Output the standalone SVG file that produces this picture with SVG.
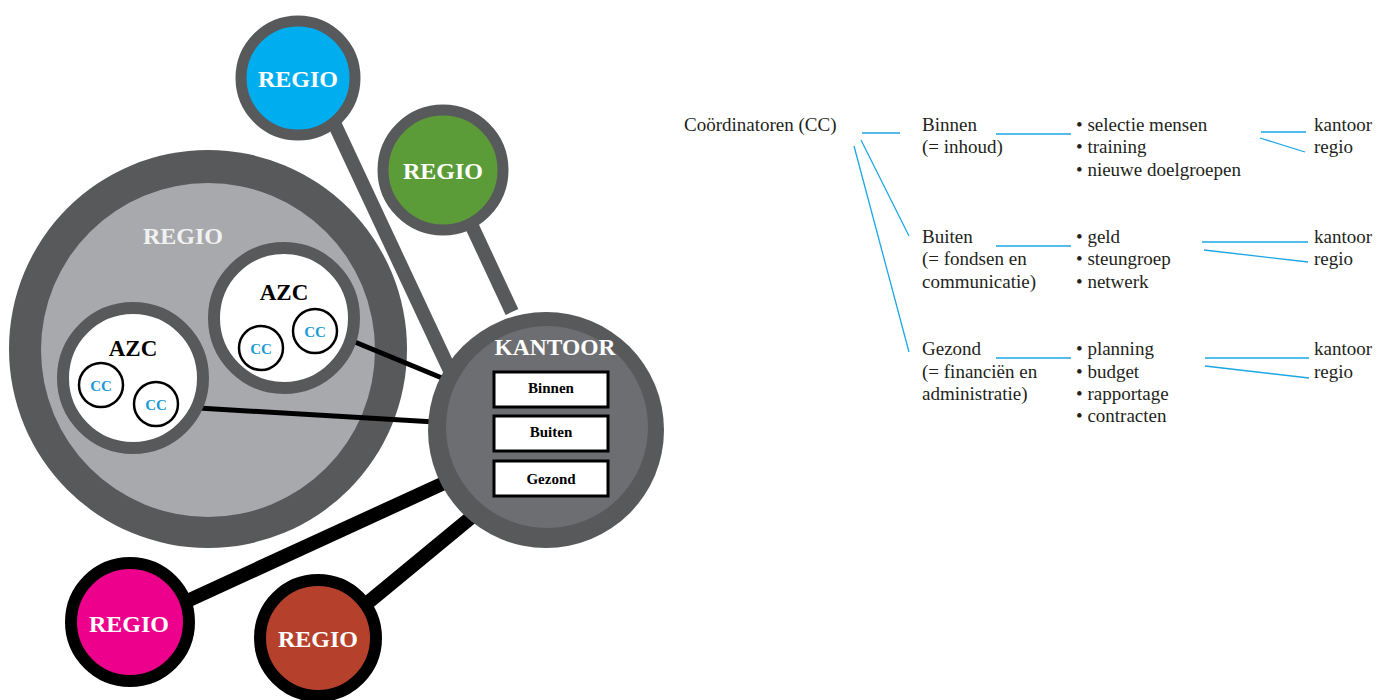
<svg xmlns="http://www.w3.org/2000/svg" width="1388" height="700" viewBox="0 0 1388 700">
<style>
.ring{stroke:#58595b;stroke-width:11}
.bring{stroke:#000;stroke-width:12}
.reg{font-family:"Liberation Serif",serif;font-weight:bold;font-size:24px;fill:#fff;text-anchor:middle}
.azc{font-family:"Liberation Serif",serif;font-weight:bold;font-size:23px;fill:#000;text-anchor:middle}
.cc{fill:#fff;stroke:#000;stroke-width:2.5}
.cct{font-family:"Liberation Serif",serif;font-weight:bold;font-size:15px;fill:#1a9ad6;text-anchor:middle}
.box{fill:#fff;stroke:#000;stroke-width:3}
.boxt{font-family:"Liberation Serif",serif;font-weight:bold;font-size:15px;fill:#000;text-anchor:middle}
.t{font-family:"Liberation Serif",serif;font-size:19px;fill:#231f20}
.bl{stroke:#1ba6e4;stroke-width:1.3;fill:none}
.gc{stroke:#58595b;stroke-width:14}
.kc{stroke:#000;stroke-width:5}
.kt{stroke:#000;stroke-width:14}
</style>
<g id="regio-big">
<circle cx="208" cy="349" r="199" fill="#58595b"/>
<circle cx="208" cy="350" r="167" fill="#a7a9ac"/>
<text class="reg" x="183" y="244" style="fill:#f1f1f2">REGIO</text>
</g>
<g id="connectors">
<line class="gc" x1="335" y1="125" x2="452" y2="375"/>
<line class="gc" x1="470" y1="222" x2="512" y2="312"/>
<line class="kc" x1="350" y1="340" x2="442" y2="378"/>
<line class="kc" x1="198" y1="408" x2="435" y2="422"/>
<line class="kt" x1="185" y1="602" x2="455" y2="478"/>
<line class="kt" x1="365" y1="605" x2="480" y2="510"/>
</g>
<g id="regio-blue">
<circle class="ring" cx="298" cy="78" r="57" fill="#00aeef"/>
<text class="reg" x="298" y="87">REGIO</text>
</g>
<g id="regio-green">
<circle class="ring" cx="443" cy="170" r="60" fill="#5c9c38"/>
<text class="reg" x="443" y="179">REGIO</text>
</g>
<g id="azc-right">
<circle cx="284" cy="318" r="70" fill="#fff" stroke="#58595b" stroke-width="12"/>
<text class="azc" x="284" y="300">AZC</text>
<g id="cc1"><circle class="cc" cx="261" cy="348" r="22"/><text class="cct" x="261" y="354">CC</text></g>
<g id="cc2"><circle class="cc" cx="315" cy="331" r="22"/><text class="cct" x="315" y="337">CC</text></g>
</g>
<g id="azc-left">
<circle cx="133" cy="378" r="70" fill="#fff" stroke="#58595b" stroke-width="12"/>
<text class="azc" x="133" y="356">AZC</text>
<g id="cc3"><circle class="cc" cx="101" cy="385" r="22"/><text class="cct" x="101" y="391">CC</text></g>
<g id="cc4"><circle class="cc" cx="156" cy="404" r="22"/><text class="cct" x="156" y="410">CC</text></g>
</g>
<g id="kantoor">
<circle cx="546" cy="430" r="118" fill="#58595b"/>
<circle cx="547" cy="427" r="101" fill="#6d6e71"/>
<text class="reg" x="555" y="355" style="font-size:23.5px">KANTOOR</text>
<g id="k-binnen"><rect class="box" x="494" y="372" width="114" height="35"/><text class="boxt" x="551" y="393">Binnen</text></g>
<g id="k-buiten"><rect class="box" x="494" y="416" width="114" height="35"/><text class="boxt" x="551" y="437">Buiten</text></g>
<g id="k-gezond"><rect class="box" x="494" y="461" width="114" height="35"/><text class="boxt" x="551" y="484">Gezond</text></g>
</g>
<g id="regio-pink">
<circle class="bring" cx="130" cy="622" r="59" fill="#ec008c"/>
<text class="reg" x="129" y="632">REGIO</text>
</g>
<g id="regio-brown">
<circle class="bring" cx="318" cy="638" r="58" fill="#b5412c"/>
<text class="reg" x="318" y="647">REGIO</text>
</g>
<g id="tree-lines">
<line class="bl" x1="862" y1="133" x2="900" y2="133"/>
<line class="bl" x1="861" y1="140" x2="909" y2="236"/>
<line class="bl" x1="854" y1="146" x2="909" y2="352"/>
<line class="bl" x1="996" y1="134" x2="1071" y2="134"/>
<line class="bl" x1="996" y1="246" x2="1071" y2="246"/>
<line class="bl" x1="996" y1="358" x2="1071" y2="358"/>
<line class="bl" x1="1261" y1="132" x2="1306" y2="132"/>
<line class="bl" x1="1260" y1="138" x2="1305" y2="152"/>
<line class="bl" x1="1202" y1="242" x2="1308" y2="242"/>
<line class="bl" x1="1204" y1="250" x2="1308" y2="262"/>
<line class="bl" x1="1205" y1="358" x2="1309" y2="358"/>
<line class="bl" x1="1205" y1="366" x2="1309" y2="378"/>
</g>
<g id="tree-text">
<text class="t" x="684" y="131">Coördinatoren (CC)</text>
<text class="t" x="922" y="131">Binnen</text>
<text class="t" x="922" y="153">(= inhoud)</text>
<text class="t" x="1076" y="131">• selectie mensen</text>
<text class="t" x="1076" y="153">• training</text>
<text class="t" x="1076" y="176">• nieuwe doelgroepen</text>
<text class="t" x="1314" y="131">kantoor</text>
<text class="t" x="1314" y="153">regio</text>
<text class="t" x="922" y="243">Buiten</text>
<text class="t" x="922" y="265">(= fondsen en</text>
<text class="t" x="922" y="288">communicatie)</text>
<text class="t" x="1076" y="243">• geld</text>
<text class="t" x="1076" y="265">• steungroep</text>
<text class="t" x="1076" y="288">• netwerk</text>
<text class="t" x="1314" y="243">kantoor</text>
<text class="t" x="1314" y="265">regio</text>
<text class="t" x="922" y="355">Gezond</text>
<text class="t" x="922" y="378">(= financiën en</text>
<text class="t" x="922" y="400">administratie)</text>
<text class="t" x="1076" y="355">• planning</text>
<text class="t" x="1076" y="378">• budget</text>
<text class="t" x="1076" y="400">• rapportage</text>
<text class="t" x="1076" y="422">• contracten</text>
<text class="t" x="1314" y="355">kantoor</text>
<text class="t" x="1314" y="378">regio</text>
</g>
</svg>
